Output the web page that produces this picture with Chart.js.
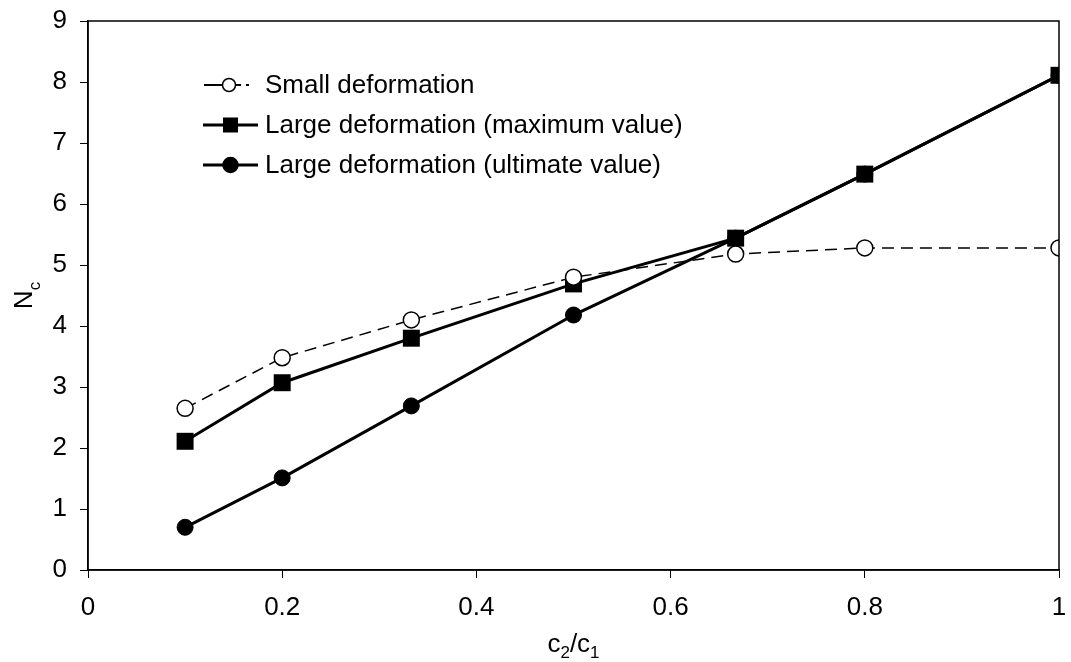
<!DOCTYPE html>
<html lang="en">
<head>
<meta charset="UTF-8" />
<title>Nc vs c2/c1</title>
<script src="https://cdn.jsdelivr.net/npm/chart.js"></script>
<style>
  body { margin: 0; background: #fff; }
  #wrap { width: 1071px; height: 662px; }
</style>
</head>
<body>
<div id="wrap"><canvas id="ncChart" width="1071" height="662"></canvas></div>
<script>
  // data
  const ratios = [0.1, 0.2, 0.333, 0.5, 0.667, 0.8, 1.0];
  const smallDef = [2.65, 3.48, 4.10, 4.80, 5.18, 5.28, 5.28];
  const largeMax = [2.11, 3.07, 3.80, 4.69, 5.44, 6.49, 8.11];
  const largeUlt = [0.70, 1.51, 2.69, 4.18, 5.44, 6.49, 8.11];
  const xTicks = [0, 0.2, 0.4, 0.6, 0.8, 1];
  const yTicks = [0, 1, 2, 3, 4, 5, 6, 7, 8, 9];
  const seriesNames = ["Small deformation", "Large deformation (maximum value)", "Large deformation (ultimate value)"];

  const FONT = "'Liberation Sans', Arial, sans-serif";

  function pts(ys) {
    return ratios.map((x, i) => ({ x: x, y: ys[i] }));
  }

  // fixed axis sizes, no extra label padding so the plot box sits where the original does
  function fixSize(prop, size) {
    return function (s) {
      s[prop] = size;
      s.paddingTop = 0; s.paddingBottom = 0; s.paddingLeft = 0; s.paddingRight = 0;
    };
  }

  // box round the plot area
  const framePlugin = {
    id: "frame",
    afterDraw(chart) {
      const a = chart.chartArea, ctx = chart.ctx;
      ctx.save();
      ctx.strokeStyle = "#000";
      ctx.lineWidth = 1.5;
      ctx.strokeRect(a.left, a.top, a.right - a.left, a.bottom - a.top);
      ctx.restore();
    }
  };

  // axis titles with subscripts
  const titlesPlugin = {
    id: "titles",
    afterDraw(chart) {
      const a = chart.chartArea, ctx = chart.ctx;
      ctx.save();
      ctx.fillStyle = "#000";
      ctx.textBaseline = "alphabetic";
      const big = "26px " + FONT, sub = "17px " + FONT;
      // x title: c2/c1
      const parts = [["c", big, 0], ["2", sub, 6], ["/c", big, 0], ["1", sub, 6]];
      let w = 0;
      parts.forEach(p => { ctx.font = p[1]; w += ctx.measureText(p[0]).width; });
      let x = (a.left + a.right) / 2 - w / 2;
      parts.forEach(p => {
        ctx.font = p[1];
        ctx.fillText(p[0], x, 652 + p[2]);
        x += ctx.measureText(p[0]).width;
      });
      // y title: Nc
      ctx.translate(32, (a.top + a.bottom) / 2);
      ctx.rotate(-Math.PI / 2);
      ctx.font = big;
      const nW = ctx.measureText("N").width;
      ctx.font = sub;
      const cW = ctx.measureText("c").width;
      const yx = -(nW + cW) / 2;
      ctx.font = big;
      ctx.fillText("N", yx, 0);
      ctx.font = sub;
      ctx.fillText("c", yx + nW, 8);
      ctx.restore();
    }
  };

  // legend drawn like the original: line + marker + text
  const legendPlugin = {
    id: "customLegend",
    afterDraw(chart) {
      const ctx = chart.ctx;
      const rows = [85, 125, 165];
      ctx.save();
      ctx.font = "26px " + FONT;
      ctx.textBaseline = "middle";
      ctx.strokeStyle = "#000";
      chart.data.datasets.forEach((ds, i) => {
        const y = rows[i];
        ctx.lineWidth = i === 0 ? 2 : 3;
        ctx.beginPath();
        if (i === 0) {
          ctx.moveTo(204, y); ctx.lineTo(223, y);
          ctx.moveTo(235, y); ctx.lineTo(241, y);
          ctx.moveTo(246, y); ctx.lineTo(249, y);
        } else {
          ctx.moveTo(203, y); ctx.lineTo(258, y);
        }
        ctx.stroke();
        ctx.lineWidth = 1.5;
        ctx.fillStyle = ds.pointBackgroundColor;
        if (ds.pointStyle === "rect") {
          ctx.fillRect(223, y - 7.5, 15, 15);
        } else {
          const cx = i === 0 ? 229 : 230.5;
          ctx.beginPath();
          ctx.arc(cx, y, i === 0 ? 6.5 : 7.5, 0, Math.PI * 2);
          ctx.fill();
          ctx.stroke();
        }
        ctx.fillStyle = "#000";
        ctx.fillText(seriesNames[i], 265, y + 1);
      });
      ctx.restore();
    }
  };

  new Chart(document.getElementById("ncChart"), {
    type: "line",
    data: {
      datasets: [
        {
          label: seriesNames[0],
          data: pts(smallDef),
          borderColor: "#000",
          borderWidth: 1.5,
          borderDash: [12, 7],
          pointStyle: "circle",
          pointRadius: 8,
          pointBorderWidth: 1.5,
          pointBorderColor: "#000",
          pointBackgroundColor: "#fff",
          tension: 0
        },
        {
          label: seriesNames[1],
          data: pts(largeMax),
          borderColor: "#000",
          borderWidth: 3,
          pointStyle: "rect",
          pointRadius: 12,
          pointBorderWidth: 0,
          pointBorderColor: "#000",
          pointBackgroundColor: "#000",
          tension: 0
        },
        {
          label: seriesNames[2],
          data: pts(largeUlt),
          borderColor: "#000",
          borderWidth: 3,
          pointStyle: "circle",
          pointRadius: 8,
          pointBorderWidth: 1,
          pointBorderColor: "#000",
          pointBackgroundColor: "#000",
          tension: 0
        }
      ]
    },
    options: {
      responsive: false,
      animation: false,
      layout: { padding: { top: 21, right: 8, left: 0, bottom: 0 } },
      plugins: {
        legend: { display: false },
        tooltip: { enabled: false }
      },
      scales: {
        x: {
          type: "linear",
          min: 0,
          max: 1,
          afterFit: fixSize("height", 92),
          afterBuildTicks(s) { s.ticks = xTicks.map(v => ({ value: v })); },
          border: { display: true, color: "#000", width: 1.5 },
          grid: { display: true, drawOnChartArea: false, drawTicks: true, tickLength: 8, color: "#000", lineWidth: 1 },
          ticks: {
            color: "#000",
            font: { family: FONT, size: 26 },
            padding: 14,
            maxRotation: 0,
            callback: v => String(v)
          }
        },
        y: {
          min: 0,
          max: 9,
          afterFit: fixSize("width", 88),
          afterBuildTicks(s) { s.ticks = yTicks.map(v => ({ value: v })); },
          border: { display: true, color: "#000", width: 1.5 },
          grid: { display: true, drawOnChartArea: false, drawTicks: true, tickLength: 8, color: "#000", lineWidth: 1 },
          ticks: {
            color: "#000",
            font: { family: FONT, size: 26 },
            padding: 13,
            callback: v => String(v)
          }
        }
      }
    },
    plugins: [framePlugin, titlesPlugin, legendPlugin]
  });
</script>
</body>
</html>
